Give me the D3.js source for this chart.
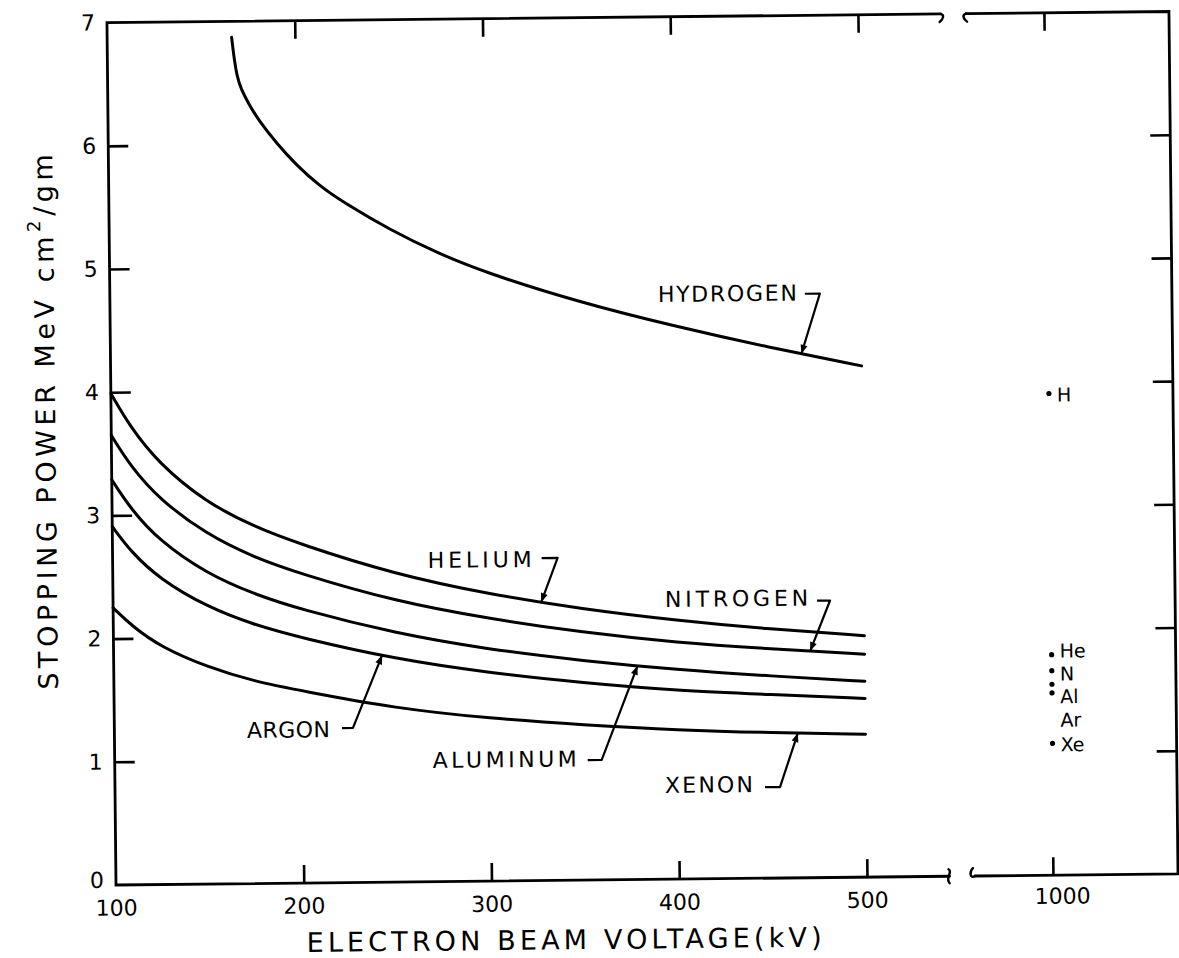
<!DOCTYPE html>
<html>
<head>
<meta charset="utf-8">
<script src="https://cdn.jsdelivr.net/npm/d3@7"></script>
<style>
  html, body { margin: 0; padding: 0; background: #fff; }
  svg { display: block; }
  text { font-family: "DejaVu Sans", sans-serif; fill: #000; }
</style>
</head>
<body>
<svg id="chart" width="1179" height="958"></svg>
<script>
// ---- data -------------------------------------------------------------
// Hydrogen curve (enters from the top of the plot a little above 160 kV)
const kvHydrogen = [166.3, 167.5, 169, 171, 175, 180, 190, 200, 212, 225, 250, 275, 300, 350, 400, 450, 500];
const hydrogen   = [6.87, 6.70, 6.55, 6.45, 6.33, 6.20, 6.00, 5.83, 5.66, 5.52, 5.29, 5.10, 4.94, 4.69, 4.49, 4.31, 4.15];

// Other gases / solids, sampled at the same beam voltages (kV)
const kvCurves = [100, 110, 125, 150, 175, 200, 250, 300, 350, 400, 450, 500];
const helium   = [3.99, 3.72, 3.42, 3.10, 2.90, 2.75, 2.50, 2.33, 2.20, 2.10, 2.02, 1.96];
const nitrogen = [3.65, 3.40, 3.13, 2.84, 2.65, 2.51, 2.28, 2.13, 2.01, 1.92, 1.86, 1.81];
const aluminum = [3.29, 3.05, 2.79, 2.52, 2.35, 2.22, 2.02, 1.88, 1.78, 1.70, 1.64, 1.59];
const argon    = [2.91, 2.70, 2.48, 2.25, 2.10, 1.99, 1.81, 1.69, 1.60, 1.53, 1.49, 1.45];
const xenon    = [2.25, 2.10, 1.93, 1.76, 1.64, 1.56, 1.41, 1.32, 1.26, 1.21, 1.18, 1.16];

// Single points at 1000 kV
const symbols1000 = ["H", "He", "N", "Al", "Ar", "Xe"];
const values1000  = [3.91, 1.79, 1.66, 1.55, 1.48, 1.07];

// Tick values
const xTicksLow  = [100, 200, 300, 400, 500];
const xTicksHigh = [1000];
const yTickLabels = [0, 1, 2, 3, 4, 5, 6, 7];
const yTickMarks  = [1, 2, 3, 4, 5, 6];

// ---- scales (broken x axis: 100-500 kV, then a short piece around 1000 kV)
const yScale = d3.scaleLinear().domain([0, 7]).range([885, 22.6]);
const xLow   = d3.scaleLinear().domain([100, 500]).range([116, 867]);
const xHigh  = d3.scaleLinear().domain([1000, 1100]).range([1053, 1240.75]);
const breakLowKv = 544, breakHighKv = 958.5, axisEndKv = 1066.6;

const svg = d3.select("#chart");
const g = svg.append("g").attr("transform", "rotate(-0.6,116,885)");

const x0 = xLow(100), xBL = xLow(breakLowKv), xBH = xHigh(breakHighKv), xR = xHigh(axisEndKv);
const yB = yScale(0), yT = yScale(7);

// ---- frame ----------------------------------------------------------------
const frame = g.append("g").attr("fill", "none").attr("stroke", "#000")
  .attr("stroke-width", 2.8).attr("stroke-linecap", "round");
frame.append("path").attr("d", `M${xBL},${yT} L${x0},${yT} L${x0},${yB} L${xBL},${yB}`);
frame.append("path").attr("d", `M${xBH},${yT} L${xR},${yT} L${xR},${yB} L${xBH},${yB}`);
// break marks
frame.append("path").attr("stroke-width", 2.4)
  .attr("d", `M${xBL},${yT} c4,1 3,5 -1,8`);
frame.append("path").attr("stroke-width", 2.4)
  .attr("d", `M${xBH},${yT} c-4,1 -3,5 1,8`);
frame.append("path").attr("stroke-width", 2.4)
  .attr("d", `M${xBL-1},${yB-7} c5,3 -4,8 1,14`);
frame.append("path").attr("stroke-width", 2.4)
  .attr("d", `M${xBH-2},${yB-8} c-4,4 -3,11 2,8`);

// ---- ticks and tick labels ------------------------------------------------
function styleAxis(sel, fontSize) {
  sel.select(".domain").remove();
  sel.attr("font-family", "DejaVu Sans, sans-serif").attr("font-size", fontSize);
  sel.selectAll(".tick line").attr("stroke", "#000").attr("stroke-width", 2.6);
  sel.selectAll(".tick text").attr("fill", "#000");
}
// left labels
g.append("g").attr("transform", `translate(${x0},0)`)
  .call(d3.axisLeft(yScale).tickValues(yTickLabels).tickSize(0).tickPadding(12).tickFormat(d3.format("d")))
  .call(s => styleAxis(s, 22))
  .call(s => s.selectAll(".tick").filter(d => d === 0).select("text").attr("dy", "0.1em"));
// left tick marks (inward)
g.append("g").attr("transform", `translate(${x0},0)`)
  .call(d3.axisLeft(yScale).tickValues(yTickMarks).tickSizeInner(-20).tickSizeOuter(0).tickFormat(""))
  .call(s => styleAxis(s, 22));
// right tick marks (inward)
g.append("g").attr("transform", `translate(${xR},0)`)
  .call(d3.axisRight(yScale).tickValues(yTickMarks).tickSizeInner(-20).tickSizeOuter(0).tickFormat(""))
  .call(s => styleAxis(s, 22));
// bottom, low piece
g.append("g").attr("transform", `translate(0,${yB})`)
  .call(d3.axisBottom(xLow).tickValues(xTicksLow).tickSizeInner(-18).tickSizeOuter(0).tickPadding(15).tickFormat(d3.format("d")))
  .call(s => styleAxis(s, 22))
  .call(s => s.selectAll(".tick").filter(d => d === 100).select("line").remove());
// bottom, high piece
g.append("g").attr("transform", `translate(0,${yB})`)
  .call(d3.axisBottom(xHigh).tickValues(xTicksHigh).tickSizeInner(-18).tickSizeOuter(0).tickPadding(13).tickFormat(d3.format("d")))
  .call(s => styleAxis(s, 22))
  .call(s => s.selectAll(".tick text").attr("dx", 9));
// top tick marks
g.append("g").attr("transform", `translate(0,${yT})`)
  .call(d3.axisTop(xLow).tickValues(xTicksLow.filter(d => d > 100)).tickSizeInner(-18).tickSizeOuter(0).tickFormat(""))
  .call(s => styleAxis(s, 22));
g.append("g").attr("transform", `translate(0,${yT})`)
  .call(d3.axisTop(xHigh).tickValues(xTicksHigh).tickSizeInner(-18).tickSizeOuter(0).tickFormat(""))
  .call(s => styleAxis(s, 22));

// ---- axis titles -----------------------------------------------------------
g.append("text")
  .attr("x", 306).attr("y", 954)
  .attr("font-size", 27)
  .attr("textLength", 515).attr("lengthAdjust", "spacing")
  .text("ELECTRON BEAM VOLTAGE(kV)");

const yTitle = g.append("text")
  .attr("transform", "translate(60,419) rotate(-90)")
  .attr("text-anchor", "middle")
  .attr("font-size", 27);
yTitle.append("tspan").text("STOPPING POWER MeV cm");
yTitle.append("tspan").attr("font-size", 18).attr("dy", -13).text("2");
yTitle.append("tspan").attr("dy", 13).text("/gm");
{
  const natural = yTitle.node().getComputedTextLength();
  const chars = "STOPPING POWER MeV cm2/gm".length;
  yTitle.attr("letter-spacing", (540 - natural) / chars);
}

// ---- curves ----------------------------------------------------------------
const line = d3.line()
  .x(d => xLow(d[0]))
  .y(d => yScale(d[1]))
  .curve(d3.curveBasis);

const series = {
  hydrogen: d3.zip(kvHydrogen, hydrogen),
  helium:   d3.zip(kvCurves, helium),
  nitrogen: d3.zip(kvCurves, nitrogen),
  aluminum: d3.zip(kvCurves, aluminum),
  argon:    d3.zip(kvCurves, argon),
  xenon:    d3.zip(kvCurves, xenon)
};

const paths = {};
for (const [name, pts] of Object.entries(series)) {
  paths[name] = g.append("path")
    .datum(pts)
    .attr("d", line)
    .attr("fill", "none")
    .attr("stroke", "#000")
    .attr("stroke-width", 3)
    .attr("stroke-linecap", "round")
    .attr("stroke-linejoin", "round");
}

// point on a drawn curve at a given beam voltage
function pointAtKv(name, kv) {
  const node = paths[name].node();
  const target = xLow(kv);
  let lo = 0, hi = node.getTotalLength();
  for (let i = 0; i < 40; i++) {
    const mid = (lo + hi) / 2;
    if (node.getPointAtLength(mid).x < target) lo = mid; else hi = mid;
  }
  const p = node.getPointAtLength((lo + hi) / 2);
  return [p.x, p.y];
}

// ---- curve labels with leader arrows ---------------------------------------
const annotations = [
  { label: "HYDROGEN", series: "hydrogen", kv: 468, at: [664, 307.7], width: 139, stub: [811, 301, 826, 301] },
  { label: "HELIUM",   series: "helium",   kv: 328, at: [431, 571.3], width: 104, stub: [545, 562.5, 561, 562.5] },
  { label: "NITROGEN", series: "nitrogen", kv: 471, at: [668, 612.8], width: 143, stub: [820, 608, 833, 608] },
  { label: "ARGON",    series: "argon",    kv: 243, at: [248.5, 739.4], width: 83, stub: [343.6, 730.4, 354.6, 730.4] },
  { label: "ALUMINUM", series: "aluminum", kv: 379, at: [434, 771.3], width: 144, stub: [589, 765, 603, 765] },
  { label: "XENON",    series: "xenon",    kv: 464, at: [666, 798.7], width: 88, stub: [766, 794, 781, 794] }
];

const ann = g.append("g");
annotations.forEach(a => {
  ann.append("text")
    .attr("x", a.at[0]).attr("y", a.at[1])
    .attr("font-size", 22)
    .attr("textLength", a.width).attr("lengthAdjust", "spacing")
    .text(a.label);
  const tip = pointAtKv(a.series, a.kv);
  const [sx1, sy1, sx2, sy2] = a.stub;
  ann.append("path")
    .attr("d", `M${sx1},${sy1} L${sx2},${sy2} L${tip[0]},${tip[1]}`)
    .attr("fill", "none").attr("stroke", "#000").attr("stroke-width", 2.2)
    .attr("stroke-linejoin", "round");
  // arrowhead
  const ang = Math.atan2(tip[1] - sy2, tip[0] - sx2);
  const len = 9, half = 3.5;
  const bx = tip[0] - len * Math.cos(ang), by = tip[1] - len * Math.sin(ang);
  const px = -Math.sin(ang) * half, py = Math.cos(ang) * half;
  ann.append("path")
    .attr("d", `M${tip[0]},${tip[1]} L${bx + px},${by + py} L${bx - px},${by - py} Z`)
    .attr("fill", "#000");
});

// ---- 1000 kV points ---------------------------------------------------------
const labelDy = [8, 3, 10, 19, 34, 8];
const pts1000 = g.append("g");
symbols1000.forEach((s, i) => {
  const cx = xHigh(1000) + 1, cy = yScale(values1000[i]);
  pts1000.append("circle").attr("cx", cx).attr("cy", cy).attr("r", 2.6).attr("fill", "#000");
  pts1000.append("text")
    .attr("x", cx + 8).attr("y", cy + labelDy[i])
    .attr("font-size", 19)
    .text(s);
});
</script>
</body>
</html>
